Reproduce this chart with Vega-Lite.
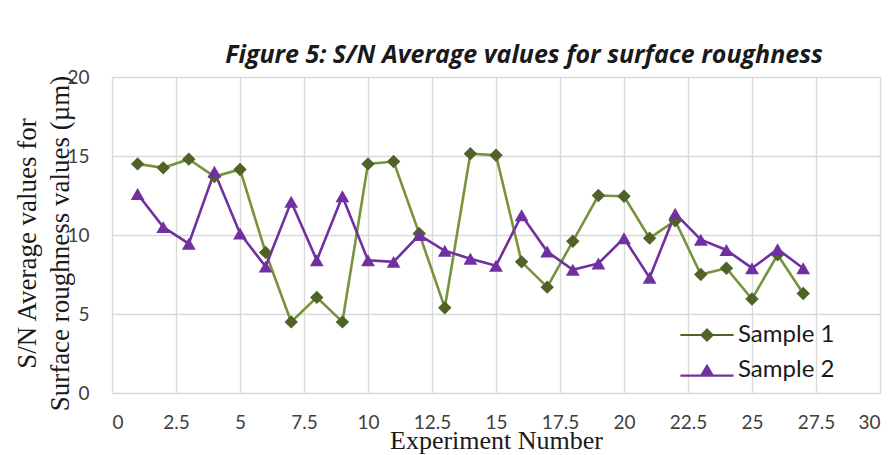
{
  "$schema": "https://vega.github.io/schema/vega-lite/v6.json",
  "width": 768,
  "height": 316,
  "autosize": {"type": "none"},
  "padding": {"left": 112, "top": 77, "right": 16, "bottom": 62},
  "background": "white",
  "config": {"view": {"stroke": null}, "font": "Lato"},
  "title": {
    "text": "Figure 5: S/N Average values for surface roughness",
    "font": "Open Sans",
    "fontSize": 25,
    "fontWeight": "bold",
    "fontStyle": "italic",
    "color": "#1a1a1a",
    "anchor": "middle",
    "dx": 28,
    "offset": 0
  },
  "data": {
    "values": [
      {"exp": 1, "series": "Sample 1", "value": 14.5},
      {"exp": 2, "series": "Sample 1", "value": 14.25},
      {"exp": 3, "series": "Sample 1", "value": 14.8},
      {"exp": 4, "series": "Sample 1", "value": 13.7},
      {"exp": 5, "series": "Sample 1", "value": 14.15},
      {"exp": 6, "series": "Sample 1", "value": 8.9},
      {"exp": 7, "series": "Sample 1", "value": 4.5},
      {"exp": 8, "series": "Sample 1", "value": 6.05},
      {"exp": 9, "series": "Sample 1", "value": 4.5},
      {"exp": 10, "series": "Sample 1", "value": 14.5},
      {"exp": 11, "series": "Sample 1", "value": 14.65},
      {"exp": 12, "series": "Sample 1", "value": 10.1},
      {"exp": 13, "series": "Sample 1", "value": 5.4},
      {"exp": 14, "series": "Sample 1", "value": 15.15},
      {"exp": 15, "series": "Sample 1", "value": 15.05},
      {"exp": 16, "series": "Sample 1", "value": 8.3},
      {"exp": 17, "series": "Sample 1", "value": 6.7},
      {"exp": 18, "series": "Sample 1", "value": 9.6},
      {"exp": 19, "series": "Sample 1", "value": 12.5},
      {"exp": 20, "series": "Sample 1", "value": 12.45},
      {"exp": 21, "series": "Sample 1", "value": 9.8},
      {"exp": 22, "series": "Sample 1", "value": 10.9},
      {"exp": 23, "series": "Sample 1", "value": 7.5},
      {"exp": 24, "series": "Sample 1", "value": 7.9},
      {"exp": 25, "series": "Sample 1", "value": 5.95},
      {"exp": 26, "series": "Sample 1", "value": 8.75},
      {"exp": 27, "series": "Sample 1", "value": 6.3},
      {"exp": 1, "series": "Sample 2", "value": 12.6},
      {"exp": 2, "series": "Sample 2", "value": 10.5},
      {"exp": 3, "series": "Sample 2", "value": 9.45},
      {"exp": 4, "series": "Sample 2", "value": 14.0},
      {"exp": 5, "series": "Sample 2", "value": 10.1},
      {"exp": 6, "series": "Sample 2", "value": 8.0},
      {"exp": 7, "series": "Sample 2", "value": 12.1},
      {"exp": 8, "series": "Sample 2", "value": 8.4},
      {"exp": 9, "series": "Sample 2", "value": 12.45},
      {"exp": 10, "series": "Sample 2", "value": 8.4},
      {"exp": 11, "series": "Sample 2", "value": 8.3},
      {"exp": 12, "series": "Sample 2", "value": 10.0},
      {"exp": 13, "series": "Sample 2", "value": 9.0},
      {"exp": 14, "series": "Sample 2", "value": 8.5},
      {"exp": 15, "series": "Sample 2", "value": 8.05},
      {"exp": 16, "series": "Sample 2", "value": 11.25},
      {"exp": 17, "series": "Sample 2", "value": 8.95},
      {"exp": 18, "series": "Sample 2", "value": 7.8},
      {"exp": 19, "series": "Sample 2", "value": 8.2},
      {"exp": 20, "series": "Sample 2", "value": 9.8},
      {"exp": 21, "series": "Sample 2", "value": 7.3},
      {"exp": 22, "series": "Sample 2", "value": 11.35},
      {"exp": 23, "series": "Sample 2", "value": 9.7},
      {"exp": 24, "series": "Sample 2", "value": 9.05},
      {"exp": 25, "series": "Sample 2", "value": 7.9},
      {"exp": 26, "series": "Sample 2", "value": 9.1},
      {"exp": 27, "series": "Sample 2", "value": 7.9}
    ]
  },
  "encoding": {
    "x": {
      "field": "exp",
      "type": "quantitative",
      "scale": {"domain": [0, 30], "nice": false, "zero": false},
      "axis": {
        "values": [0, 2.5, 5, 7.5, 10, 12.5, 15, 17.5, 20, 22.5, 25, 27.5, 30],
        "format": ".1~f",
        "title": "Experiment Number",
        "titleFont": "Liberation Serif",
        "titleFontSize": 26,
        "titleFontWeight": "normal",
        "titleColor": "#1a1a1a",
        "titleBaseline": "alphabetic",
        "titleY": 55,
        "labelFont": "Lato",
        "labelFontSize": 19,
        "labelColor": "#404040",
        "labelPadding": 20,
        "ticks": false,
        "domain": false,
        "grid": true,
        "gridColor": "#D9D9D9",
        "gridWidth": 1.3
      }
    },
    "y": {
      "field": "value",
      "type": "quantitative",
      "scale": {"domain": [0, 20], "nice": false},
      "axis": {
        "values": [0, 5, 10, 15, 20],
        "title": ["S/N Average values for", "Surface roughness values (µm)"],
        "titleFont": "Liberation Serif",
        "titleFontSize": 27,
        "titleFontWeight": "normal",
        "titleColor": "#1a1a1a",
        "titleAngle": -90,
        "titleX": -85,
        "titleY": 166,
        "titleAlign": "center",
        "titleBaseline": "middle",
        "titleLineHeight": 33,
        "labelFont": "Lato",
        "labelFontSize": 19,
        "labelColor": "#404040",
        "labelPadding": 23,
        "ticks": false,
        "domain": false,
        "grid": true,
        "gridColor": "#D9D9D9",
        "gridWidth": 1.3
      }
    }
  },
  "layer": [
    {
      "mark": {"type": "line", "strokeWidth": 2.6},
      "encoding": {
        "stroke": {
          "field": "series",
          "type": "nominal",
          "scale": {"range": ["#77933C", "#7030A0"]},
          "legend": null
        }
      }
    },
    {
      "transform": [{"filter": "datum.series === 'Sample 1'"}],
      "mark": {"type": "point", "filled": true, "opacity": 1, "size": 180, "shape": "diamond", "color": "#4F6228"},
      "encoding": {}
    },
    {
      "transform": [{"filter": "datum.series === 'Sample 2'"}],
      "mark": {"type": "point", "filled": true, "opacity": 1, "size": 190, "shape": "triangle-up", "color": "#7030A0"},
      "encoding": {}
    },
    {
      "transform": [{"filter": {"field": "exp", "lt": 0}}],
      "mark": {"type": "point", "filled": true, "opacity": 1, "size": 196},
      "encoding": {
        "color": {
          "field": "series",
          "type": "nominal",
          "scale": {"domain": ["Sample 1", "Sample 2"], "range": ["#4F6228", "#7030A0"]},
          "legend": {
            "title": null,
            "orient": "none",
            "legendX": 583,
            "legendY": 246,
            "padding": 0,
            "labelFont": "Lato",
            "labelFontSize": 24,
            "labelColor": "#1a1a1a",
            "labelOffset": 19,
            "rowPadding": 11,
            "symbolSize": 196,
            "symbolOpacity": 1
          }
        },
        "shape": {
          "field": "series",
          "type": "nominal",
          "scale": {
            "domain": ["Sample 1", "Sample 2"],
            "range": [
              "M-3.8,-0.16L3.8,-0.16L3.8,0.16L-3.8,0.16ZM-1,0L0,-1L1,0L0,1Z",
              "M-3.8,0.64L3.8,0.64L3.8,0.96L-3.8,0.96ZM0,-0.9L1,0.8L-1,0.8Z"
            ]
          },
          "legend": {
            "title": null,
            "orient": "none",
            "legendX": 583,
            "legendY": 246,
            "padding": 0,
            "labelFont": "Lato",
            "labelFontSize": 24,
            "labelColor": "#1a1a1a",
            "labelOffset": 19,
            "rowPadding": 11,
            "symbolSize": 196,
            "symbolOpacity": 1
          }
        }
      }
    }
  ]
}
